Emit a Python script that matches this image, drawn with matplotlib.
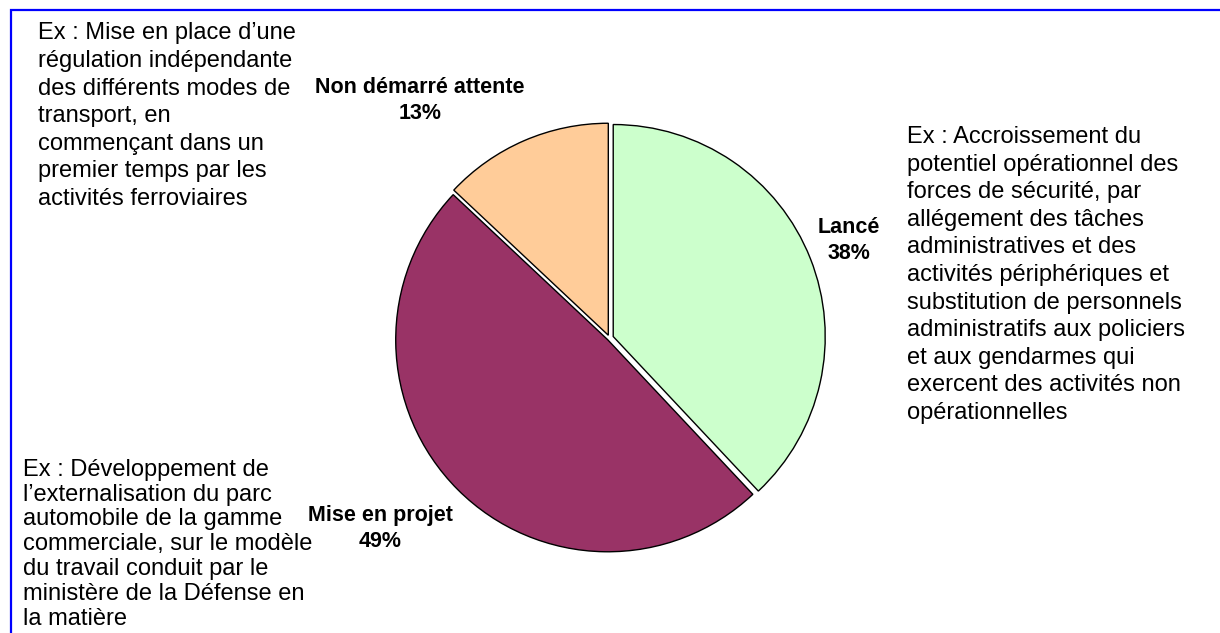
import matplotlib
matplotlib.use("Agg")
import matplotlib.pyplot as plt
import matplotlib.patches as patches

# data
labels = ["Lancé", "Mise en projet", "Non démarré attente"]
shares = [38, 49, 13]
colors = ["#CCFFCC", "#993366", "#FFCC99"]

notes = [
    "Ex : Mise en place d\u2019une\nrégulation indépendante\ndes différents modes de\ntransport, en\ncommençant dans un\npremier temps par les\nactivités ferroviaires",
    "Ex : Accroissement du\npotentiel opérationnel des\nforces de sécurité, par\nallégement des tâches\nadministratives et des\nactivités périphériques et\nsubstitution de personnels\nadministratifs aux policiers\net aux gendarmes qui\nexercent des activités non\nopérationnelles",
    "Ex : Développement de\nl\u2019externalisation du parc\nautomobile de la gamme\ncommerciale, sur le modèle\ndu travail conduit par le\nministère de la Défense en\nla matière",
]

W, H = 1220, 633

def py(y):
    return H - y

plt.rcParams['font.family'] = ['Liberation Sans', 'DejaVu Sans']

fig = plt.figure(figsize=(W / 100, H / 100), dpi=100)
ax = fig.add_axes([0, 0, 1, 1])

# explode is in data units (pixels here)
wedges, _ = ax.pie(
    shares,
    colors=colors,
    startangle=90,
    counterclock=False,
    center=(609.5, py(338)),
    radius=212,
    explode=[4, 2.5, 3],
    wedgeprops=dict(edgecolor='black', linewidth=1.0),
)

ax.set_xlim(0, W)
ax.set_ylim(0, H)
ax.set_aspect('auto')
ax.axis('off')

# blue frame (runs off right and bottom edges)
ax.add_patch(patches.Rectangle((10.5, -10), W + 20, py(9.5) + 10,
                               fill=False, edgecolor='#0000FF', linewidth=1.6))

# slice labels
label_pos = [(849, 240.5), (380, 528.5), (420, 100.5)]
for name, val, (x, y) in zip(labels, shares, label_pos):
    ax.text(x, py(y), f"{name}\n{val}%", ha='center', va='center',
            fontsize=15.5, fontweight='bold', linespacing=1.29)

# side notes: (x, baseline of last line, linespacing)
note_pos = [(38, 205, 1.33), (907, 419, 1.33), (23, 625, 1.17)]
for txt, (x, y, ls) in zip(notes, note_pos):
    ax.text(x, py(y), txt, ha='left', va='baseline', fontsize=17,
            linespacing=ls, color='black')

fig.savefig("out.png", dpi=100)
